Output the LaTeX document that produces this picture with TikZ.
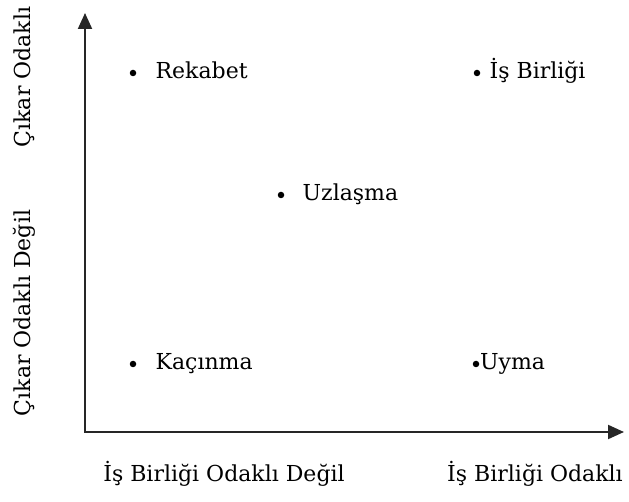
\documentclass[tikz,border=0pt]{standalone}
\usepackage{fontspec}
\setmainfont{DejaVu Serif}
\usetikzlibrary{arrows.meta, positioning}

\begin{document}
\begin{tikzpicture}[
    x=1pt, y=-1pt,
    axis/.style={{Triangle[length=16pt,width=14pt]}-{Triangle[length=16pt,width=14pt]},
                 line width=2pt, color=black!85},
    dot/.style={circle, fill=black, inner sep=0pt, minimum size=6.5pt},
    lbl/.style={font=\fontsize{22}{26}\selectfont, inner sep=0pt, anchor=west,
                text height=16pt, text depth=5pt},
    axlbl/.style={font=\fontsize{22}{26}\selectfont, inner sep=0pt,
                  text height=16pt, text depth=5pt}
]
\useasboundingbox (0,0) rectangle (629,502);
% axes
\coordinate (origin) at (85,432);
\coordinate (ytip) at (85,13);
\coordinate (xtip) at (624,432);
\draw[axis] (ytip) -- (origin) -- (xtip);
% strategies
\node[dot] (rekabet) at (133,73) {};
\node[lbl, right=19pt of rekabet] (rekabetlbl) {Rekabet};
\node[dot] (isbirligi) at (477,73) {};
\node[lbl, right=9pt of isbirligi] (isbirligilbl) {İş Birliği};
\node[dot] (uzlasma) at (281,195) {};
\node[lbl, right=18pt of uzlasma] (uzlasmalbl) {Uzlaşma};
\node[dot] (kacinma) at (133,364) {};
\node[lbl, right=19pt of kacinma] (kacinmalbl) {Kaçınma};
\node[dot] (uyma) at (476,364) {};
\node[lbl, right=0.5pt of uyma] (uymalbl) {Uyma};
% axis labels
\node[axlbl] (xlow) at (224,476) {İş Birliği Odaklı Değil};
\node[axlbl] (xhigh) at (535,476) {İş Birliği Odaklı};
\node[axlbl, rotate=90] (yhigh) at (25,77) {Çıkar Odaklı};
\node[axlbl, rotate=90] (ylow) at (25,313) {Çıkar Odaklı Değil};
\end{tikzpicture}
\end{document}
